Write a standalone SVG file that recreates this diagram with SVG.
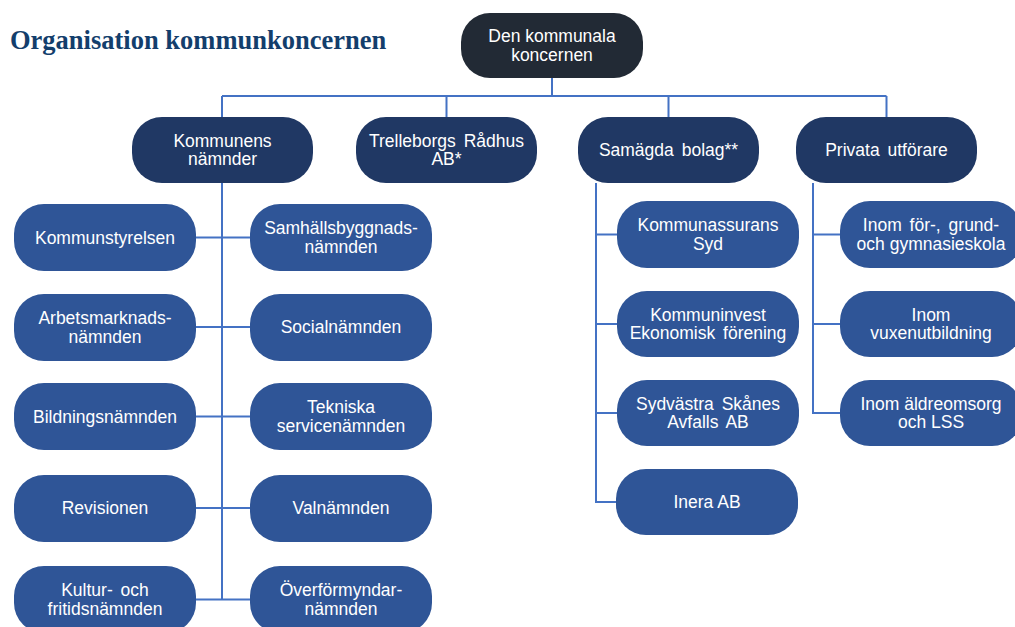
<svg xmlns="http://www.w3.org/2000/svg" width="1015" height="627" viewBox="0 0 1015 627">
<style>
.top{fill:#222A35}
.l1{fill:#203864}
.l2{fill:#2F5597}
.t{font-family:"Liberation Sans",Arial,sans-serif;font-size:17.5px;fill:#FFFFFF;text-anchor:middle}
.ws{word-spacing:3px}
.con{fill:none;stroke:#4472C4;stroke-width:2}
.title{font-family:"Liberation Serif","Times New Roman",serif;font-weight:bold;font-size:26.5px;fill:#133E6C}
</style>
<rect width="1015" height="627" fill="#FFFFFF"/>
<text class="title" x="10" y="49">Organisation kommunkoncernen</text>

<g id="connectors">
<path class="con" d="M552 78V96M222 96H886.5M222 96V117M446.5 96V117M668.5 96V117M886.5 96V117"/>
<path class="con" d="M222 183V599.5M196 237.5H250M196 327H250M196 416.5H250M196 508H250M196 599.5H250"/>
<path class="con" d="M596 183V502H617M596 234.5H617M596 324H617M596 413H617"/>
<path class="con" d="M813 183V413H840M813 234.5H840M813 324H840"/>
</g>

<g id="n-top"><rect class="top" x="461" y="13" width="182" height="65" rx="29"/><text class="t" x="552" y="42">Den kommunala</text><text class="t" x="552" y="60.5">koncernen</text></g>

<g id="n-kommunens"><rect class="l1" x="132" y="117" width="181" height="66" rx="30"/><text class="t" x="222.5" y="146.7">Kommunens</text><text class="t" x="222.5" y="165.2">nämnder</text></g>
<g id="n-trelleborgs"><rect class="l1" x="356" y="117" width="181" height="66" rx="30"/><text class="t ws" x="446.5" y="146.7">Trelleborgs Rådhus</text><text class="t" x="446.5" y="165.2">AB*</text></g>
<g id="n-samagda"><rect class="l1" x="578" y="117" width="181" height="66" rx="30"/><text class="t ws" x="668.5" y="156.3">Samägda bolag**</text></g>
<g id="n-privata"><rect class="l1" x="796" y="117" width="181" height="66" rx="30"/><text class="t ws" x="886.5" y="156.3">Privata utförare</text></g>

<g id="n-kommunstyrelsen"><rect class="l2" x="14" y="204" width="182" height="67" rx="30"/><text class="t" x="105" y="243.8">Kommunstyrelsen</text></g>
<g id="n-arbetsmarknads"><rect class="l2" x="14" y="294" width="182" height="67" rx="30"/><text class="t" x="105" y="324">Arbetsmarknads-</text><text class="t" x="105" y="342.5">nämnden</text></g>
<g id="n-bildnings"><rect class="l2" x="14" y="383" width="182" height="67" rx="30"/><text class="t" x="105" y="422.8">Bildningsnämnden</text></g>
<g id="n-revisionen"><rect class="l2" x="14" y="475" width="182" height="67" rx="30"/><text class="t" x="105" y="514.3">Revisionen</text></g>
<g id="n-kultur"><rect class="l2" x="14" y="566" width="182" height="67" rx="30"/><text class="t ws" x="105" y="596.2">Kultur- och</text><text class="t" x="105" y="614.7">fritidsnämnden</text></g>

<g id="n-samhallsbyggnads"><rect class="l2" x="250" y="204" width="182" height="67" rx="30"/><text class="t" x="341" y="234.3">Samhällsbyggnads-</text><text class="t" x="341" y="252.8">nämnden</text></g>
<g id="n-social"><rect class="l2" x="250" y="294" width="182" height="67" rx="30"/><text class="t" x="341" y="333.3">Socialnämnden</text></g>
<g id="n-tekniska"><rect class="l2" x="250" y="383" width="182" height="67" rx="30"/><text class="t" x="341" y="413.2">Tekniska</text><text class="t" x="341" y="431.7">servicenämnden</text></g>
<g id="n-valnamnden"><rect class="l2" x="250" y="475" width="182" height="67" rx="30"/><text class="t" x="341" y="514.3">Valnämnden</text></g>
<g id="n-overformyndar"><rect class="l2" x="250" y="566" width="182" height="67" rx="30"/><text class="t" x="341" y="596.2">Överförmyndar-</text><text class="t" x="341" y="614.7">nämnden</text></g>

<g id="n-kommunassurans"><rect class="l2" x="617" y="201" width="182" height="67" rx="30"/><text class="t" x="708" y="231.2">Kommunassurans</text><text class="t" x="708" y="249.7">Syd</text></g>
<g id="n-kommuninvest"><rect class="l2" x="617" y="291" width="182" height="66" rx="30"/><text class="t" x="708" y="320.7">Kommuninvest</text><text class="t ws" x="708" y="339.2">Ekonomisk förening</text></g>
<g id="n-sydvastra"><rect class="l2" x="617" y="380" width="182" height="66" rx="30"/><text class="t ws" x="708" y="409.7">Sydvästra Skånes</text><text class="t ws" x="708" y="428.2">Avfalls AB</text></g>
<g id="n-inera"><rect class="l2" x="616" y="469" width="182" height="66" rx="30"/><text class="t" x="707" y="508.3">Inera AB</text></g>

<g id="n-skola"><rect class="l2" x="840" y="201" width="182" height="67" rx="30"/><text class="t ws" x="931" y="231.2">Inom för-, grund-</text><text class="t" x="931" y="249.7">och gymnasieskola</text></g>
<g id="n-vuxen"><rect class="l2" x="840" y="291" width="182" height="66" rx="30"/><text class="t" x="931" y="320.7">Inom</text><text class="t" x="931" y="339.2">vuxenutbildning</text></g>
<g id="n-aldreomsorg"><rect class="l2" x="840" y="380" width="182" height="66" rx="30"/><text class="t" x="931" y="409.7">Inom äldreomsorg</text><text class="t" x="931" y="428.2">och LSS</text></g>
</svg>
